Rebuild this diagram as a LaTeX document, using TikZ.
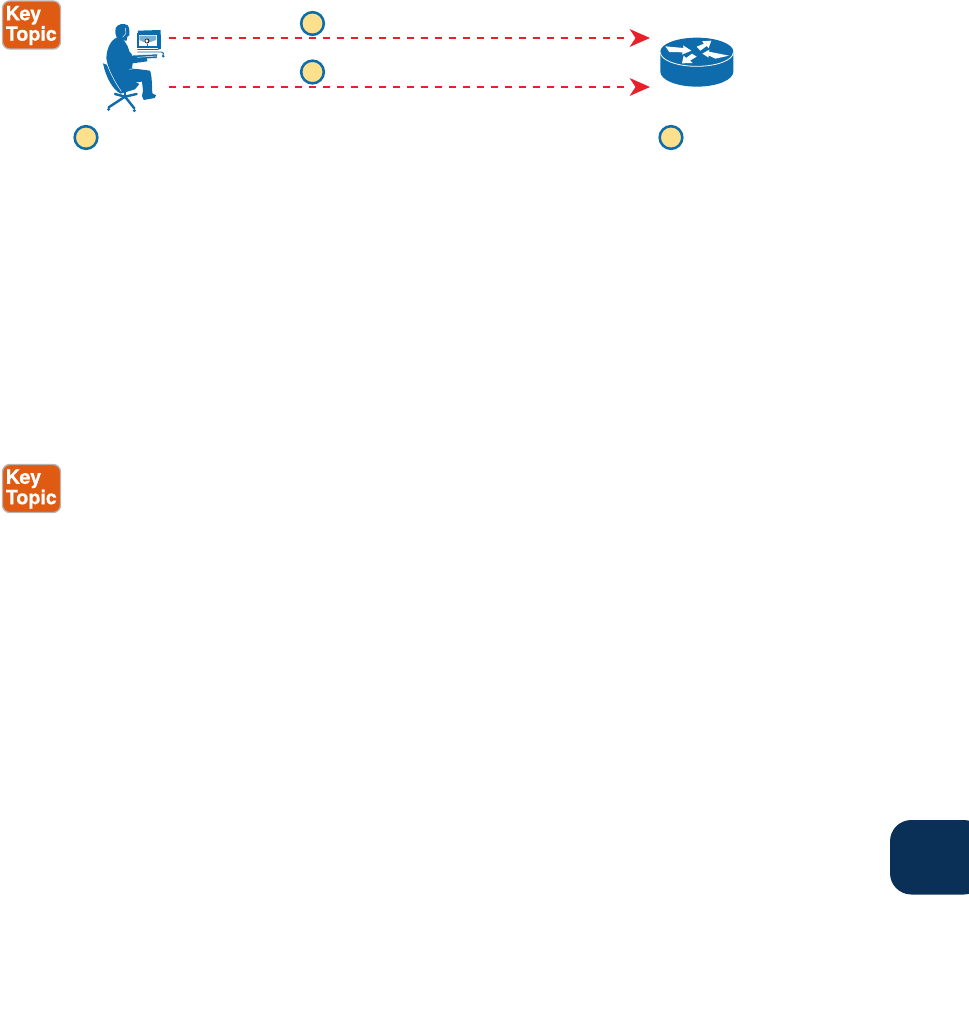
\documentclass[tikz,border=0pt]{standalone}
\usepackage{fontspec}
\setmainfont{TeX Gyre Heros}
\newfontfamily\keyfont[FakeBold=0.35]{TeX Gyre Heros Bold}
\usetikzlibrary{arrows.meta}
\definecolor{ciscoblue}{HTML}{0E6CAC}
\definecolor{badgefill}{HTML}{FCE08C}
\definecolor{keyorange}{HTML}{DF5A12}
\definecolor{keyborder}{HTML}{B8B4B0}
\definecolor{tabnavy}{HTML}{0A3058}
\definecolor{flowred}{HTML}{E8202A}
\tikzset{
  badge/.style={circle,draw=ciscoblue,fill=badgefill,line width=1.9pt,minimum size=17pt,inner sep=0pt},
  keybox/.style={rounded corners=5.5pt,draw=keyborder,fill=keyorange,line width=1pt,minimum width=43.5pt,minimum height=36pt,inner sep=0pt},
  keytext/.style={text=white,font=\keyfont\fontsize{14.8}{13.5}\selectfont,align=left,inner sep=0pt,anchor=west},
  flow/.style={draw=flowred,line width=1.3pt,dash pattern=on 5.6pt off 4.9pt},
  flowhead/.style={fill=flowred,draw=none},
  bluefill/.style={fill=ciscoblue,draw=none},
  whitefill/.style={fill=white,draw=none},
  whiteline/.style={draw=white,line width=0.35pt},
  chairleg/.style={ciscoblue,line width=1.8pt,line cap=round}
}
\begin{document}
\begin{tikzpicture}[x=0.75pt,y=-0.75pt]
\useasboundingbox (0,0) rectangle (969,1034);
% Key Topic icons
\node[keybox] (key1) at (31.5,25) {};
\node[keytext] (key1t) at (5.5,25.5) {Key\\Topic};
\node[keybox] (key2) at (31.5,488.5) {};
\node[keytext] (key2t) at (5.5,489) {Key\\Topic};
% Navy tab
\fill[tabnavy,rounded corners=16pt] (890,820) -- (890,894.5) -- (985,894.5) -- (985,820) -- cycle;
% Badges
\node[badge] (b1) at (312.5,23.5) {};
\node[badge] (b2) at (312.5,72) {};
\node[badge] (b3) at (86,137.5) {};
\node[badge] (b4) at (671,137.5) {};
% User at workstation (drawn in 3x crop coordinates)
\begin{scope}[scale=1/3]
  % chair base
  \draw[chairleg] (375,290) -- (326,322);
  \draw[chairleg] (375,290) -- (403,325);
  \draw[chairleg] (375,290) -- (345,282);
  \draw[chairleg] (375,290) -- (410,282);
  \draw[chairleg] (375,268) -- (375,292);
  \fill[ciscoblue] (326,328) circle (5) (403,332) circle (5);
  % chair back and seat
  \path[bluefill] (309,190) -- (322,195) .. controls (332,220) and (345,250) .. (360,268)
     -- (400,243) -- (418,252) -- (405,268) -- (362,281) .. controls (340,270) and (318,235) .. cycle;
  % torso and legs
  \path[bluefill] (352,112) .. controls (370,115) and (382,130) .. (388,154)
     -- (397,165) -- (440,168) -- (442,184) -- (398,190) -- (396,205)
     -- (450,212) .. controls (456,225) and (456,260) .. (457,280) -- (468,286) -- (464,294)
     -- (431,300) -- (426,288) -- (429,272) -- (426,245) -- (400,248) -- (365,275)
     .. controls (345,255) and (325,210) .. (319,175) .. controls (320,145) and (332,120) .. cycle;
  % head
  \path[bluefill] (347,84) .. controls (352,72) and (372,68) .. (383,76)
     .. controls (390,85) and (388,98) .. (388,106) -- (382,110) -- (380,122) -- (362,122)
     -- (350,112) .. controls (345,100) and (345,92) .. cycle;
  \draw[whiteline] (376,84) -- (378,100) -- (368,112);
  % seat seams
  \draw[whiteline] (322,195) .. controls (332,222) and (348,252) .. (364,274);
  \draw[whiteline] (388,208) -- (416,204);
  % monitor
  \path[bluefill] (414,92) -- (482,90) -- (483,146) -- (472,150) -- (412,150) -- cycle;
  \fill[white] (410,98) rectangle (475,148);
  \path[bluefill] (412,100) rectangle (473,143);
  \fill[white] (416,105) rectangle (470,139);
  \fill[ciscoblue!55] (418,107) -- (468,107) -- (468,120) -- (452,126) -- (430,126) -- (418,120) -- cycle;
  \fill[black!80] (441,123) circle (7.5);
  \fill[white] (440,118) -- (445,123) -- (440,128) -- (436,123) -- cycle;
  \draw[ciscoblue,line width=0.5pt] (441,131) -- (441,138);
  % keyboard
  \path[bluefill] (396,166) -- (472,162) -- (470,174) -- (400,177) -- cycle;
  \draw[whiteline] (396,166) -- (472,162);
  \draw[whiteline] (412,172) -- (470,168);
  \draw[ciscoblue,line width=0.7pt] (412,156) -- (484,156) .. controls (492,156) and (492,162) .. (488,168);
  \fill[ciscoblue] (490,169) circle (4);
\end{scope}
% Router
\begin{scope}[shift={(620,20)},scale=1/3]
  \path[bluefill] (121,95) -- (121,155) arc[start angle=180,end angle=0,x radius=109.5,y radius=45] -- (340,95)
     arc[start angle=0,end angle=-180,x radius=109.5,y radius=42] -- cycle;
  \draw[draw=white,line width=0.6pt] (121,97) arc[start angle=180,end angle=0,x radius=109.5,y radius=42];
  \path[whitefill] (136,79) -- (191,84) -- (189,76) -- (214,92) -- (186,104) -- (188,97) -- (148,96) -- cycle;
  \path[whitefill] (230,80) -- (252,71) -- (246,64) -- (274,62) -- (266,84) -- (260,78) -- (241,92) -- cycle;
  \path[whitefill] (247,101) -- (268,89) -- (267,95) -- (327,107) -- (286,116) -- (265,106) -- (266,113) -- cycle;
  \path[whitefill] (186,130) -- (191,107) -- (198,114) -- (216,101) -- (230,110) -- (210,122) -- (218,129) -- cycle;
\end{scope}
% Flows
\coordinate (ua) at (169,38);
\coordinate (ub) at (169,87);
\coordinate (ra) at (650,38);
\coordinate (rb) at (650,87);
\draw[flow] (ua) -- ([xshift=-15]ra);
\draw[flow] (ub) -- ([xshift=-15]rb);
\path[flowhead] (ra) -- ++(-20.5,-9) -- ++(6,9) -- ++(-6,9) -- cycle;
\path[flowhead] (rb) -- ++(-20.5,-9) -- ++(6,9) -- ++(-6,9) -- cycle;
\end{tikzpicture}
\end{document}
